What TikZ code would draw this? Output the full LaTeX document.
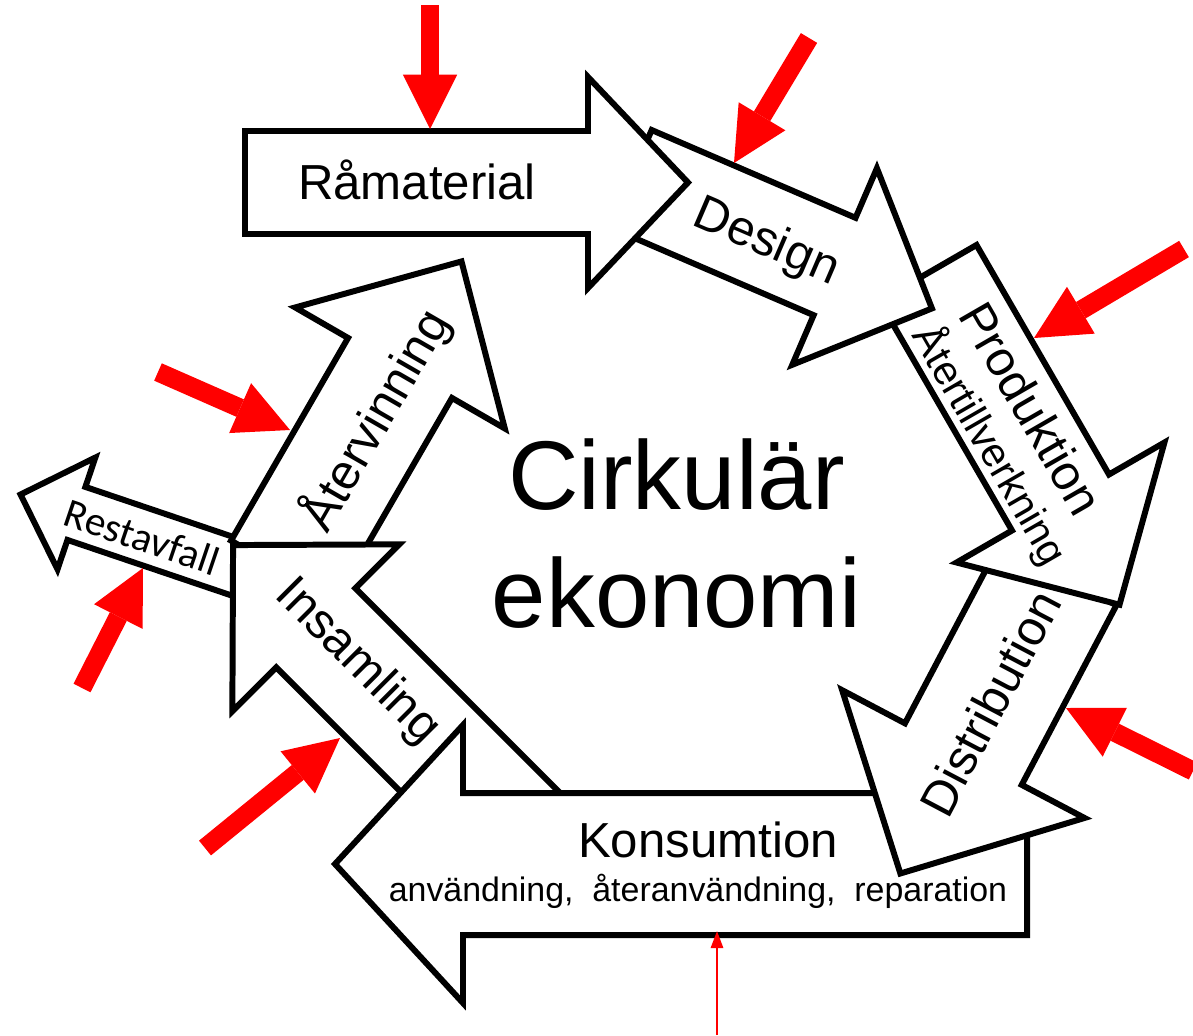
\documentclass[tikz,border=0pt]{standalone}
\usepackage{fontspec}
\setmainfont{Liberation Sans}
\newfontfamily\carlito{Carlito}
\usetikzlibrary{arrows.meta}

\begin{document}
\begin{tikzpicture}[x=0.02cm,y=-0.02cm,
                    blk/.style={draw=black,fill=white,line width=3.4pt,line join=miter},
                    pics/blockarrow/.style args={#1/#2/#3/#4}{code={
                        \path[blk] (0,-#2) -- (#1,-#2) -- (#1,-#3) -- ({#1+#4},0)
                            -- (#1,#3) -- (#1,#2) -- (0,#2) -- cycle;}},
                    lbl/.style={font=\fontsize{28}{33}\selectfont},
                    big/.style={font=\fontsize{55.6}{67}\selectfont},
                    sub/.style={font=\fontsize{19.3}{23}\selectfont},
                    inflow/.style={red,line width=10.8pt,-{Triangle[length=31pt,width=31pt,line width=0pt]}},
                    thinflow/.style={red,line width=1.2pt,-{Triangle[length=9.7pt,width=7pt]}}]
                    \useasboundingbox (0,0) rectangle (1193,1035);
                    \pic[rotate=161.3] at (268.7,578.5) {blockarrow=203/28/59/59};
                    \pic[rotate=60] at (283,570.6) {blockarrow=234/60/121/123};
                    \pic[rotate=135] at (535,847) {blockarrow=310/56/118/117};
                    \pic[rotate=180] at (1027,864) {blockarrow=564/71/139/128};
                    \pic[rotate=-117.8] at (1058,574.5) {blockarrow=203/66/137/135};
                    \pic[rotate=-60] at (928,273) {blockarrow=265/56/120/118};
                    \pic[rotate=-23.3] at (630.7,178.7) {blockarrow=222/53/107/106};
                    \pic at (245,182.5) {blockarrow=343/51.5/105.5/100};
                    \node[lbl] (ram) at (417,180) {Råmaterial};
                    \node[lbl,rotate=-23.3] (des) at (766,243) {Design};
                    \node[lbl,rotate=-60] (pro) at (1031.6,408.4) {Produktion};
                    \node[rotate=-60,font=\fontsize{23.3}{28}\selectfont] (ater) at (990,445) {Återtillverkning};
                    \node[lbl,rotate=62.2] (dist) at (990,703) {Distribution};
                    \node[lbl] (kons) at (708,840) {Konsumtion};
                    \node[sub] (kons_sub) at (698,891) {användning,\ \ återanvändning,\ \ reparation};
                    \node[lbl,rotate=-45] (ins) at (357,662) {Insamling};
                    \node[lbl,rotate=60] (atv) at (375,420) {Återvinning};
                    \node[rotate=-18.7,font=\carlito\fontsize{23.5}{27}\selectfont] (rest) at (142,537) {Restavfall};
                    \node[big] (cirk) at (676.5,475) {Cirkulär};
                    \node[big] (eko) at (676.5,593) {ekonomi};
                    \coordinate (ram_s) at (430,5);     \coordinate (ram_t) at (430,129);
                    \coordinate (des_s) at (809,38);    \coordinate (des_t) at (734,163);
                    \coordinate (pro_s) at (1184,249);  \coordinate (pro_t) at (1034,338);
                    \coordinate (dist_s) at (1193,771); \coordinate (dist_t) at (1066,708);
                    \coordinate (ins_s) at (205,848);   \coordinate (ins_t) at (340,738);
                    \coordinate (rest_s) at (82,688);   \coordinate (rest_t) at (143,568);
                    \coordinate (atv_s) at (158,372);   \coordinate (atv_t) at (290,430);
                    \coordinate (kons_s) at (717,1035); \coordinate (kons_t) at (717,931);
                    \path[inflow]
                        (ram_s) edge (ram_t)
                        (des_s) edge (des_t)
                        (pro_s) edge (pro_t)
                        (dist_s) edge (dist_t)
                        (ins_s) edge (ins_t)
                        (rest_s) edge (rest_t)
                        (atv_s) edge (atv_t);
                    \draw[thinflow] (kons_s) -- (kons_t);
                \end{tikzpicture}
\end{document}
